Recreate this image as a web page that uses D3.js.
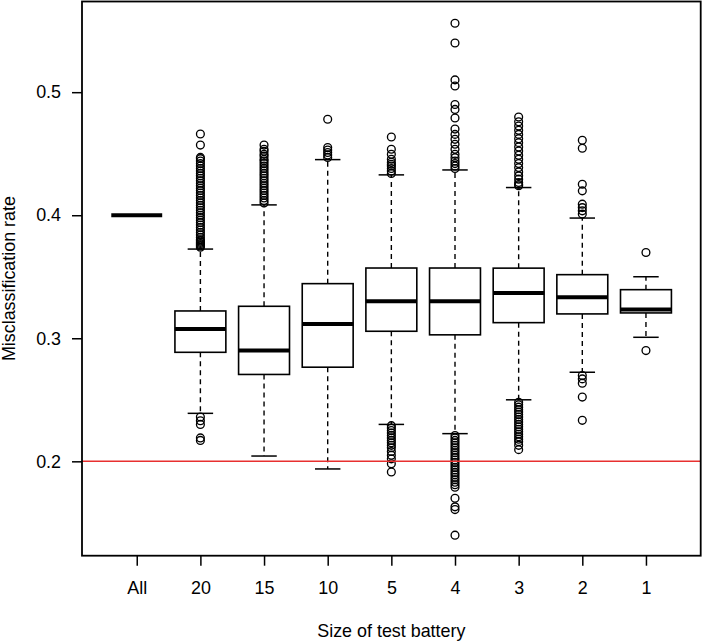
<!DOCTYPE html>
<html>
<head>
<meta charset="utf-8">
<script src="https://cdn.jsdelivr.net/npm/d3@7/dist/d3.min.js"></script>
<style>
  html, body { margin: 0; padding: 0; background: #fff; }
  svg { display: block; }
  text { font-family: "Liberation Sans", Arial, sans-serif; }
</style>
</head>
<body>
<svg id="chart" width="703" height="642"></svg>
<script>
// ---- data ----
const categories = ["All", "20", "15", "10", "5", "4", "3", "2", "1"];
const q1Values     = [0.400, 0.2886, 0.2706, 0.2765, 0.3057, 0.3028, 0.3127, 0.3198, 0.3206];
const medianValues = [0.400, 0.3076, 0.2900, 0.3117, 0.3300, 0.3300, 0.3368, 0.3333, 0.3233];
const q3Values     = [0.400, 0.3222, 0.3260, 0.3444, 0.3571, 0.3571, 0.3570, 0.3517, 0.3395];
const whiskerLow   = [0.400, 0.2390, 0.2043, 0.1938, 0.2300, 0.2225, 0.2500, 0.2724, 0.3008];
const whiskerHigh  = [0.400, 0.3725, 0.4084, 0.4452, 0.4328, 0.4368, 0.4225, 0.3977, 0.3500];
const outliersAll = [];
const outliers20 = [0.374, 0.375, 0.376, 0.377, 0.378, 0.379, 0.380, 0.382, 0.384, 0.386, 0.388, 0.390,
  0.392, 0.394, 0.396, 0.398, 0.400, 0.402, 0.404, 0.406, 0.408, 0.410, 0.412, 0.414, 0.416, 0.418,
  0.420, 0.422, 0.424, 0.426, 0.428, 0.430, 0.432, 0.434, 0.436, 0.438, 0.440, 0.442, 0.444, 0.446,
  0.447, 0.457, 0.466, 0.236, 0.233, 0.230, 0.219, 0.217];
const outliers15 = [0.410, 0.412, 0.414, 0.416, 0.418, 0.420, 0.422, 0.424, 0.426, 0.428, 0.430, 0.432,
  0.434, 0.436, 0.438, 0.440, 0.442, 0.444, 0.4455, 0.448, 0.4495, 0.452, 0.4536, 0.457];
const outliers10 = [0.447, 0.449, 0.451, 0.453, 0.455, 0.478];
const outliers5 = [0.434, 0.436, 0.438, 0.440, 0.4414, 0.443, 0.4455, 0.4495, 0.4536, 0.4636,
  0.229, 0.227, 0.225, 0.223, 0.221, 0.219, 0.217, 0.215, 0.213, 0.211, 0.208, 0.205, 0.202, 0.198, 0.1913];
const outliers4 = [0.438, 0.440, 0.442, 0.444, 0.4468, 0.4495, 0.4536, 0.4577, 0.4617, 0.4657, 0.470,
  0.479, 0.486, 0.490, 0.505, 0.510, 0.540, 0.556,
  0.221, 0.219, 0.217, 0.215, 0.213, 0.211, 0.209, 0.207, 0.205, 0.203, 0.201, 0.199, 0.197, 0.195,
  0.193, 0.191, 0.189, 0.187, 0.185, 0.183, 0.181, 0.179, 0.170, 0.163, 0.1608, 0.140];
const outliers3 = [0.424, 0.425, 0.4266, 0.4293, 0.432, 0.4352, 0.4387, 0.442, 0.4455, 0.4487, 0.4522,
  0.4555, 0.459, 0.4622, 0.4657, 0.469, 0.4725, 0.476, 0.4798,
  0.248, 0.246, 0.244, 0.242, 0.240, 0.238, 0.236, 0.234, 0.232, 0.230, 0.228, 0.226, 0.224, 0.222,
  0.220, 0.218, 0.216, 0.213, 0.2095];
const outliers2 = [0.4009, 0.4036, 0.4062, 0.409, 0.4198, 0.4252, 0.4544, 0.4609,
  0.2697, 0.267, 0.2635, 0.2522, 0.2333];
const outliers1 = [0.3697, 0.290];
const outlierLists = [outliersAll, outliers20, outliers15, outliers10, outliers5, outliers4, outliers3, outliers2, outliers1];
const yTicks = [0.2, 0.3, 0.4, 0.5];
const referenceLine = 0.2;
const xTitle = "Size of test battery";
const yTitle = "Misclassification rate";

// ---- layout ----
const svg = d3.select("#chart");
const L = 82, R = 700.7, T = 1.5, B = 555.7;
const n = categories.length;
const x = d3.scaleLinear().domain([0.5 - 0.36, n + 0.5 + 0.36]).range([L, R]);
const y = d3.scaleLinear().domain([0.1233, 0.5737]).range([B, T]);
const unit = x(2) - x(1);
const boxW = unit * 0.8;
const stapleW = boxW * 0.5;
const FS = 17.9;

const rows = categories.map((c, i) => ({
  c, i: i + 1, q1: q1Values[i], med: medianValues[i], q3: q3Values[i],
  lo: whiskerLow[i], hi: whiskerHigh[i], out: outlierLists[i]
}));

const g = svg.append("g");

g.selectAll(".wh").data(rows).join("g").each(function(d) {
  const s = d3.select(this);
  const cx = x(d.i);
  s.append("line").attr("x1", cx).attr("x2", cx).attr("y1", y(d.q3)).attr("y2", y(d.hi))
    .attr("stroke", "#000").attr("stroke-width", 1.4).attr("stroke-dasharray", "5,4");
  s.append("line").attr("x1", cx).attr("x2", cx).attr("y1", y(d.q1)).attr("y2", y(d.lo))
    .attr("stroke", "#000").attr("stroke-width", 1.4).attr("stroke-dasharray", "5,4");
  s.append("line").attr("x1", cx - stapleW / 2).attr("x2", cx + stapleW / 2).attr("y1", y(d.hi)).attr("y2", y(d.hi))
    .attr("stroke", "#000").attr("stroke-width", 1.5);
  s.append("line").attr("x1", cx - stapleW / 2).attr("x2", cx + stapleW / 2).attr("y1", y(d.lo)).attr("y2", y(d.lo))
    .attr("stroke", "#000").attr("stroke-width", 1.5);
  s.append("rect").attr("x", cx - boxW / 2).attr("width", boxW)
    .attr("y", y(d.q3)).attr("height", Math.max(0, y(d.q1) - y(d.q3)))
    .attr("fill", "#fff").attr("stroke", "#000").attr("stroke-width", 1.6);
  s.append("line").attr("x1", cx - boxW / 2).attr("x2", cx + boxW / 2).attr("y1", y(d.med)).attr("y2", y(d.med))
    .attr("stroke", "#000").attr("stroke-width", 4);
  s.selectAll("circle").data(d.out).join("circle")
    .attr("cx", cx).attr("cy", v => y(v)).attr("r", 3.9)
    .attr("fill", "none").attr("stroke", "#000").attr("stroke-width", 1.35);
});

g.append("line").attr("x1", L).attr("x2", R).attr("y1", y(referenceLine)).attr("y2", y(referenceLine))
  .attr("stroke", "#e8302f").attr("stroke-width", 1.5);

svg.append("rect").attr("x", L).attr("y", T).attr("width", R - L).attr("height", B - T)
  .attr("fill", "none").attr("stroke", "#000").attr("stroke-width", 1.8);

const yAxis = d3.axisLeft(y).tickValues(yTicks).tickFormat(d3.format(".1f")).tickSize(10).tickPadding(11);
const ya = svg.append("g").attr("transform", `translate(${L},0)`).call(yAxis);
ya.select(".domain").remove();
ya.selectAll("line").attr("stroke-width", 1.5);
ya.selectAll("text").attr("font-size", FS).attr("fill", "#000").style("font-family", '"Liberation Sans", Arial, sans-serif');

const xAxis = d3.axisBottom(x).tickValues(d3.range(1, n + 1)).tickFormat(i => categories[i - 1]).tickSize(10).tickPadding(16);
const xa = svg.append("g").attr("transform", `translate(0,${B})`).call(xAxis);
xa.select(".domain").remove();
xa.selectAll("line").attr("stroke-width", 1.5);
xa.selectAll("text").attr("font-size", FS).attr("fill", "#000").style("font-family", '"Liberation Sans", Arial, sans-serif');

svg.append("text").attr("x", (L + R) / 2).attr("y", 636.5).attr("text-anchor", "middle")
  .attr("font-size", FS).attr("fill", "#000").text(xTitle);
svg.append("text").attr("transform", `translate(15,${(T + B) / 2}) rotate(-90)`).attr("text-anchor", "middle")
  .attr("font-size", FS).attr("fill", "#000").text(yTitle);
</script>
</body>
</html>
